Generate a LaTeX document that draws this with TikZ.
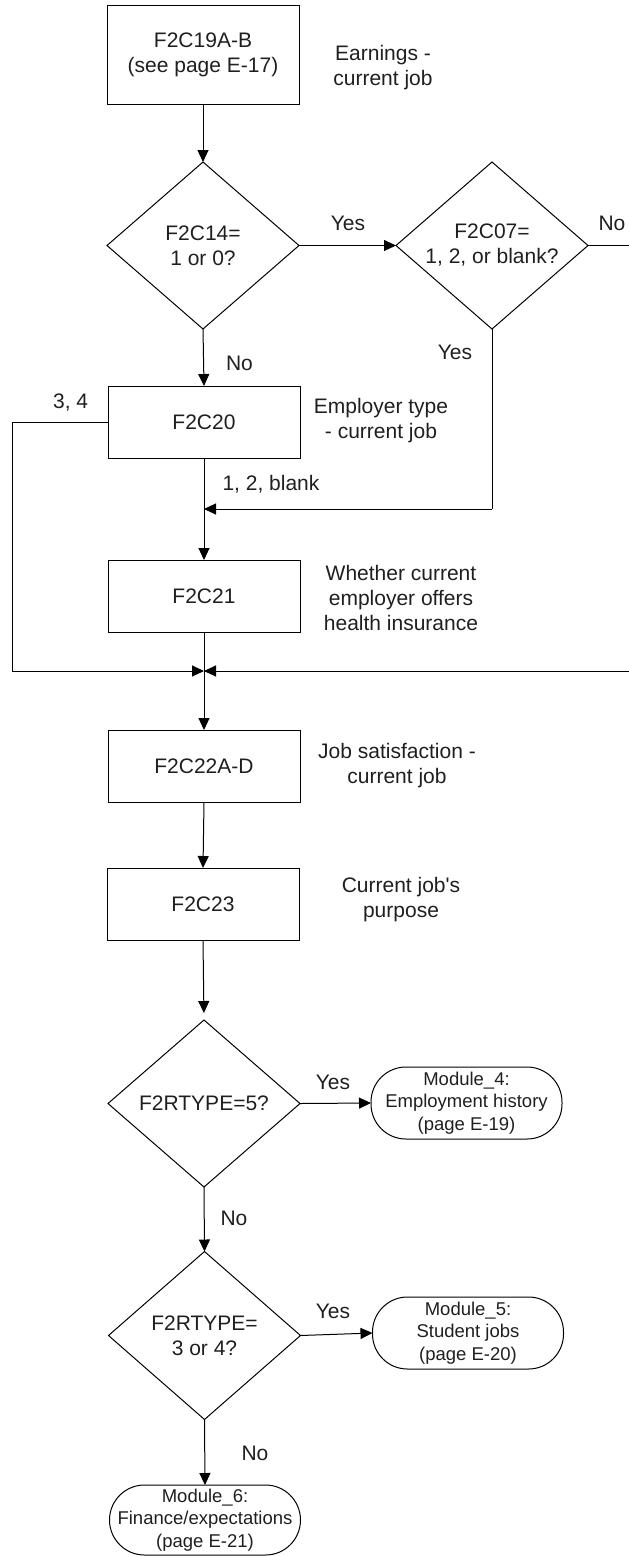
\documentclass[tikz,border=0pt]{standalone}
\usepackage{fontspec}
\setmainfont{Liberation Sans}
\usetikzlibrary{shapes.geometric,arrows.meta}
\begin{document}
\begin{tikzpicture}[x=1pt,y=-1pt,
  every node/.style={inner sep=0pt, outer sep=0pt},
  txt/.style={font=\fontsize{21}{25}\selectfont, align=center, text=black!88},
  box/.style={draw, line width=1pt, minimum width=192pt, minimum height=72pt, txt},
  dec/.style={draw, diamond, line width=1pt, minimum width=192pt, minimum height=167pt},
  term/.style={draw, rounded corners=35pt, line width=1pt, minimum width=191pt, minimum height=72pt, align=center, text=black!88, font=\fontsize{18.5}{22.5}\selectfont},
  conn/.style={line width=1pt},
  arr/.style={conn, -{Triangle[length=12pt,width=11pt]}}
]
\useasboundingbox (0,0) rectangle (629,1556);
\clip (0,0) rectangle (629,1556);

% main column
\node[box, minimum height=99pt] (b1) at (203,54.5) {F2C19A-B\\(see page E-17)};
\node[dec, label={[txt]center:{F2C14=\\1 or 0?}}] (d1) at (203,245.5) {};
\node[dec, label={[txt]center:{F2C07=\\1, 2, or blank?}}] (d2) at (492,245.5) {};
\node[box] (b2) at (204,422) {F2C20};
\node[box] (b3) at (204,596) {F2C21};
\coordinate (m) at (204,671);
\node[box] (b4) at (204,766) {F2C22A-D};
\node[box] (b5) at (203,904) {F2C23};
\node[dec, label={[txt]center:{F2RTYPE=5?}}] (d3) at (204,1103.5) {};
\node[term] (t4) at (466.5,1103) {Module\_4:\\Employment history\\(page E-19)};
\node[dec, minimum height=168pt, label={[txt]center:{F2RTYPE=\\3 or 4?}}] (d4) at (204.5,1335.5) {};
\node[term] (t5) at (468,1333) {Module\_5:\\Student jobs\\(page E-20)};
\node[term, minimum height=70pt] (t6) at (205,1520) {Module\_6:\\Finance/expectations\\(page E-21)};

% side texts
\node[txt] (c1) at (383,67.5) {Earnings -\\current job};
\node[txt] (c2) at (381,421) {Employer type\\- current job};
\node[txt] (c3) at (401,598) {Whether current\\employer offers\\health insurance};
\node[txt] (c4) at (397,766) {Job satisfaction -\\current job};
\node[txt] (c5) at (401,900) {Current job\textquotesingle s\\purpose};

% connector labels
\node[txt] (l1) at (348,223) {Yes};
\node[txt] (l2) at (612,223) {No};
\node[txt] (l3) at (455,352) {Yes};
\node[txt] (l4) at (239.5,363) {No};
\node[txt] (l5) at (70.6,403) {3, 4};
\node[txt] (l6) at (271,484) {1, 2, blank};
\node[txt] (l7) at (333,1082) {Yes};
\node[txt] (l8) at (234,1218) {No};
\node[txt] (l9) at (333,1311) {Yes};
\node[txt] (l10) at (255,1453) {No};

% helper coordinates
\coordinate (r1) at (640,245.5);
\coordinate (r2) at (640,671);
\coordinate (lf1) at (12,422);
\coordinate (lf2) at (12,671);
\coordinate (j1) at (492,509);
\coordinate (j2) at (204,509);

% connectors
\draw[arr] (b1.south) -- (d1.north);
\draw[arr] (d1.east) -- (d2.west);
\draw[arr] (d1.south) -- (b2.north);
\draw[conn] (d2.east) -- (r1) -- (r2) -- (m);
\draw[arr] (r2) -- (m);
\draw[conn] (b2.west) -- (lf1) -- (lf2);
\draw[arr] (lf2) -- (m);
\draw[arr] (b2.south) -- (b3.north);
\draw[conn] (d2.south) -- (j1);
\draw[arr] (j1) -- (j2);
\draw[conn] (b3.south) -- (m);
\draw[arr] (m) -- (b4.north);
\draw[arr] (b4.south) -- (b5.north);
\draw[arr, shorten >=7pt] (b5.south) -- (d3.north);
\draw[arr] (d3.east) -- (t4.west);
\draw[arr] (d3.south) -- (d4.north);
\draw[arr] (d4.east) -- (t5.west);
\draw[arr] (d4.south) -- (t6.north);
\end{tikzpicture}
\end{document}
